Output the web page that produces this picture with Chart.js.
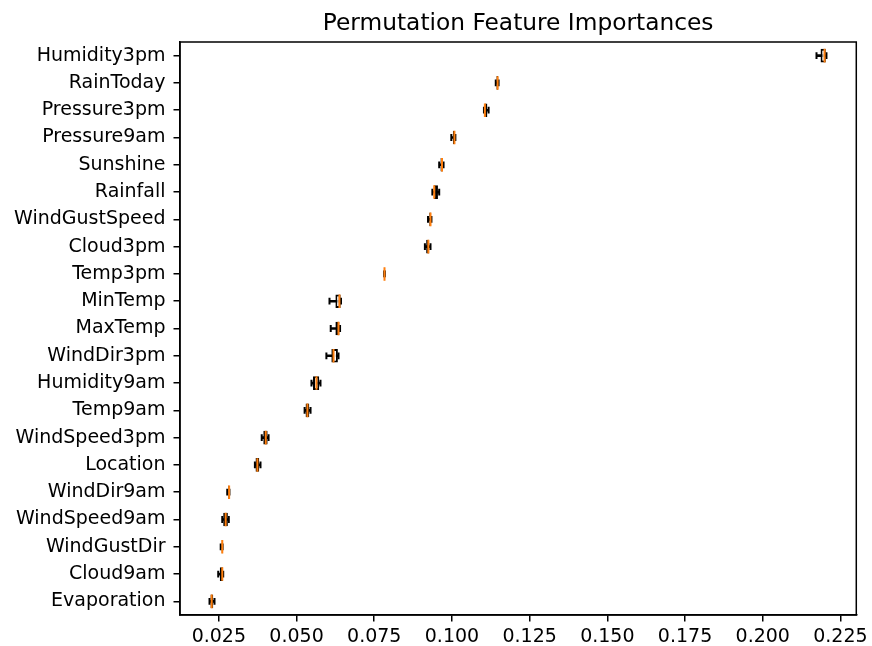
<!DOCTYPE html>
<html>
<head>
<meta charset="utf-8">
<script src="https://cdn.jsdelivr.net/npm/chart.js@4/dist/chart.umd.min.js"></script>
<style>
  html, body { margin: 0; padding: 0; background: #fff; }
  #wrap { width: 872px; height: 646px; }
</style>
</head>
<body>
<div id="wrap"><canvas id="chartImportances" width="872" height="646"></canvas></div>
<script>
// Permutation importances per feature, as five-number summaries (top row first)
const features = [
    'Humidity3pm', 'RainToday', 'Pressure3pm', 'Pressure9am', 'Sunshine', 'Rainfall',
    'WindGustSpeed', 'Cloud3pm', 'Temp3pm', 'MinTemp', 'MaxTemp', 'WindDir3pm',
    'Humidity9am', 'Temp9am', 'WindSpeed3pm', 'Location', 'WindDir9am', 'WindSpeed9am',
    'WindGustDir', 'Cloud9am', 'Evaporation'
];
const whiskerLow  = [0.2173, 0.1141, 0.1103, 0.0998, 0.0959, 0.0937, 0.0923, 0.0913, 0.0782, 0.0606, 0.0610,
                     0.0596, 0.0548, 0.0526, 0.0388, 0.0366, 0.0277, 0.0261, 0.0256, 0.0248, 0.0220];
const quartile1   = [0.2186, 0.1143, 0.1105, 0.1003, 0.0963, 0.0942, 0.0927, 0.0917, 0.0783, 0.0625, 0.0625,
                     0.0612, 0.0553, 0.0529, 0.0393, 0.0368, 0.0280, 0.0264, 0.0259, 0.0253, 0.0223];
const medians     = [0.2199, 0.1147, 0.1106, 0.1008, 0.0968, 0.0943, 0.0931, 0.0924, 0.0783, 0.0638, 0.0635,
                     0.0619, 0.0564, 0.0535, 0.0401, 0.0374, 0.0283, 0.0272, 0.0261, 0.0261, 0.0227];
const quartile3   = [0.2203, 0.1149, 0.1114, 0.1009, 0.0971, 0.0955, 0.0932, 0.0927, 0.0784, 0.0642, 0.0638,
                     0.0633, 0.0573, 0.0541, 0.0407, 0.0380, 0.0284, 0.0279, 0.0262, 0.0263, 0.0232];
const whiskerHigh = [0.2205, 0.1150, 0.1118, 0.1011, 0.0973, 0.0959, 0.0934, 0.0931, 0.0784, 0.0643, 0.0640,
                     0.0635, 0.0577, 0.0545, 0.0410, 0.0384, 0.0284, 0.0282, 0.0262, 0.0264, 0.0236];
const xTicks = [0.025, 0.050, 0.075, 0.100, 0.125, 0.150, 0.175, 0.200, 0.225];

Chart.defaults.font.family = "'DejaVu Sans', sans-serif";
Chart.defaults.color = '#000';

const LINE_W = 2;
const TICK_FONT = { size: 19 };

// closes the frame on the top and right sides
const framePlugin = {
    id: 'frame',
    afterDraw(chart) {
        const { ctx, chartArea: a } = chart;
        ctx.save();
        ctx.strokeStyle = '#000';
        ctx.lineWidth = 1.5;
        ctx.strokeRect(a.left, a.top, a.right - a.left, a.bottom - a.top);
        ctx.restore();
    }
};

const points = vals => vals.map((v, i) => ({ x: v, y: features[i] }));

const ctx = document.getElementById('chartImportances').getContext('2d');
new Chart(ctx, {
    type: 'bar',
    data: {
        labels: features,
        datasets: [
            {
                type: 'scatter',
                label: 'median',
                data: points(medians),
                pointStyle: 'line',
                rotation: 90,
                pointRadius: 6.8,
                borderColor: '#ff7f0e',
                borderWidth: LINE_W,
                order: 0
            },
            {
                type: 'scatter',
                label: 'caps',
                data: points(whiskerLow).concat(points(whiskerHigh)),
                pointStyle: 'line',
                rotation: 90,
                pointRadius: 3.4,
                borderColor: '#000',
                borderWidth: LINE_W,
                order: 1
            },
            {
                label: 'box',
                data: quartile1.map((q, i) => [q, quartile3[i]]),
                backgroundColor: '#fff',
                borderColor: '#000',
                borderWidth: LINE_W,
                borderSkipped: false,
                barPercentage: 0.5,
                categoryPercentage: 1,
                grouped: false,
                order: 2
            },
            {
                label: 'whiskers',
                data: whiskerLow.map((w, i) => [w, whiskerHigh[i]]),
                backgroundColor: '#000',
                borderWidth: 0,
                barThickness: LINE_W,
                grouped: false,
                order: 3
            }
        ]
    },
    options: {
        indexAxis: 'y',
        responsive: false,
        animation: false,
        events: [],
        layout: { padding: { left: 0, right: 14, top: 0, bottom: 0 } },
        plugins: {
            legend: { display: false },
            tooltip: { enabled: false },
            title: {
                display: true,
                text: 'Permutation Feature Importances',
                fullSize: false,
                color: '#000',
                font: { size: 23.3, weight: 'normal', lineHeight: 1.2 },
                padding: { top: 10, bottom: 4.04 }
            }
        },
        scales: {
            x: {
                type: 'linear',
                min: 0.0125,
                max: 0.2301,
                beginAtZero: false,
                afterBuildTicks: axis => { axis.ticks = xTicks.map(v => ({ value: v })); },
                afterFit: axis => { axis.height = 31; },
                border: { display: true, color: '#000', width: 1.5 },
                grid: { drawOnChartArea: false, drawTicks: true, tickLength: 6.5, color: '#000', lineWidth: 1.5 },
                ticks: {
                    font: TICK_FONT,
                    padding: 4,
                    maxRotation: 0,
                    autoSkip: false,
                    callback: v => Number(v).toFixed(3)
                }
            },
            y: {
                type: 'category',
                offset: true,
                afterFit: axis => { axis.width = 180; },
                border: { display: true, color: '#000', width: 1.5 },
                grid: { offset: false, drawOnChartArea: false, drawTicks: true, tickLength: 6.5, color: '#000', lineWidth: 1.5 },
                ticks: { font: TICK_FONT, padding: 8, autoSkip: false }
            }
        }
    },
    plugins: [framePlugin]
});
</script>
</body>
</html>
